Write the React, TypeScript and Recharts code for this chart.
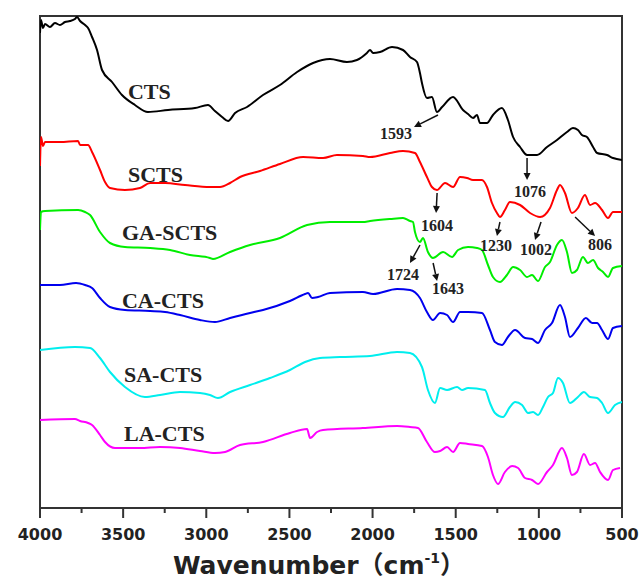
import { LineChart, Line, XAxis, YAxis, ReferenceArea, ReferenceDot } from "recharts";

// FTIR spectra, wavenumber (cm-1) vs. offset transmittance (a.u.)
const ctsWn = [4000, 3994, 3982, 3970, 3940, 3910, 3880, 3850, 3820, 3790, 3777, 3759, 3729, 3711, 3687, 3657, 3627, 3567, 3507, 3429, 3351, 3230, 3068, 2990, 2948, 2905, 2869, 2827, 2755, 2659, 2557, 2454, 2358, 2256, 2154, 2094, 2034, 2015, 1997, 1955, 1883, 1817, 1775, 1733, 1715, 1703, 1673, 1643, 1613, 1582, 1516, 1456, 1426, 1396, 1372, 1354, 1312, 1276, 1222, 1186, 1155, 1113, 1071, 1011, 951, 891, 831, 795, 765, 741, 711, 674, 650, 590, 554, 500];
const ctsT = [475, 488, 480, 484, 481, 485, 483, 486, 487, 489, 491, 487, 483, 480, 471, 458, 438, 426, 413, 403, 396, 398, 400, 403, 397, 391, 387, 395, 401, 413, 423, 436, 445, 449, 446, 448, 455, 458, 455, 456, 461, 458, 451, 446, 435, 425, 410, 411, 396, 401, 411, 398, 394, 390, 393, 385, 385, 393, 400, 388, 371, 361, 353, 353, 361, 368, 376, 380, 378, 373, 371, 361, 355, 353, 350, 348];

const sctsWn = [4000, 3994, 3982, 3970, 3880, 3771, 3759, 3711, 3687, 3639, 3609, 3579, 3489, 3399, 3338, 3248, 3128, 2978, 2917, 2857, 2797, 2677, 2557, 2418, 2298, 2214, 2058, 2015, 1895, 1817, 1745, 1715, 1673, 1643, 1613, 1564, 1516, 1474, 1432, 1396, 1342, 1312, 1282, 1252, 1234, 1204, 1174, 1113, 1053, 993, 933, 891, 873, 843, 801, 765, 723, 692, 662, 620, 584, 554, 500];
const sctsT = [342, 371, 362, 366, 366, 367, 363, 363, 356, 338, 326, 320, 318, 320, 325, 325, 323, 321, 321, 325, 331, 337, 344, 351, 350, 353, 352, 351, 355, 357, 355, 346, 331, 321, 318, 325, 321, 331, 330, 328, 328, 321, 305, 295, 291, 298, 306, 303, 295, 291, 300, 318, 323, 315, 295, 300, 313, 303, 305, 298, 290, 296, 296];

const gaWn = [4000, 3994, 3970, 3771, 3729, 3699, 3639, 3579, 3489, 3338, 3218, 3098, 2978, 2960, 2857, 2737, 2557, 2394, 2256, 2058, 2015, 1895, 1817, 1775, 1757, 1745, 1715, 1697, 1667, 1637, 1576, 1522, 1486, 1426, 1372, 1342, 1306, 1276, 1234, 1192, 1155, 1113, 1071, 1041, 1005, 963, 933, 891, 861, 831, 801, 771, 735, 705, 674, 644, 614, 584, 554, 500];
const gaT = [278, 296, 297, 298, 296, 293, 276, 265, 261, 260, 258, 253, 250, 249, 256, 263, 270, 283, 286, 286, 287, 289, 290, 287, 286, 276, 266, 270, 256, 250, 256, 251, 258, 261, 260, 258, 243, 231, 226, 233, 241, 238, 231, 233, 227, 241, 246, 263, 268, 256, 235, 238, 251, 245, 248, 240, 236, 231, 240, 242];

const caWn = [4000, 3880, 3783, 3729, 3687, 3639, 3579, 3489, 3338, 3248, 3158, 3038, 2948, 2857, 2737, 2659, 2497, 2406, 2388, 2364, 2328, 2256, 2058, 1997, 1853, 1775, 1715, 1673, 1637, 1594, 1552, 1516, 1474, 1426, 1342, 1294, 1264, 1222, 1186, 1143, 1083, 1041, 1005, 963, 921, 873, 843, 813, 765, 717, 680, 650, 620, 584, 554, 500];
const caT = [223, 223, 225, 223, 220, 210, 201, 198, 197, 196, 193, 188, 186, 190, 195, 198, 207, 214, 215, 210, 211, 215, 216, 214, 219, 218, 210, 196, 188, 195, 193, 186, 196, 196, 195, 178, 166, 163, 171, 178, 170, 169, 165, 178, 185, 203, 191, 171, 180, 190, 185, 185, 178, 169, 180, 182];

const saWn = [4000, 3790, 3699, 3639, 3579, 3489, 3369, 3278, 3158, 3038, 2978, 2930, 2857, 2737, 2617, 2497, 2406, 2316, 2196, 2015, 1853, 1775, 1703, 1667, 1625, 1594, 1552, 1492, 1462, 1426, 1324, 1294, 1264, 1216, 1174, 1143, 1101, 1065, 1035, 1005, 975, 945, 915, 885, 855, 813, 765, 729, 692, 650, 620, 584, 542, 500];
const saT = [158, 161, 160, 150, 136, 121, 111, 113, 116, 115, 113, 110, 116, 123, 130, 138, 146, 150, 151, 152, 156, 155, 141, 118, 105, 120, 118, 121, 118, 120, 118, 105, 95, 91, 101, 106, 103, 95, 96, 93, 101, 111, 115, 130, 125, 105, 111, 116, 111, 110, 105, 95, 103, 106];

const laWn = [4000, 3790, 3759, 3711, 3687, 3639, 3609, 3549, 3399, 3278, 3158, 3038, 2948, 2887, 2797, 2659, 2497, 2394, 2376, 2334, 2298, 2058, 1853, 1775, 1727, 1673, 1625, 1594, 1552, 1516, 1474, 1426, 1342, 1306, 1276, 1246, 1204, 1161, 1125, 1083, 1041, 1005, 951, 915, 861, 831, 801, 771, 729, 692, 662, 632, 584, 554, 512];
const laT = [88, 89, 87, 85, 83, 73, 66, 60, 60, 61, 60, 57, 55, 56, 63, 66, 75, 79, 70, 76, 78, 80, 82, 81, 80, 66, 56, 57, 61, 56, 65, 64, 62, 51, 33, 24, 36, 42, 40, 30, 28, 24, 36, 43, 60, 50, 33, 36, 54, 43, 45, 36, 28, 38, 40];

const xTicks = [4000, 3750, 3500, 3250, 3000, 2750, 2500, 2250, 2000, 1750, 1500, 1250, 1000, 750, 500];

// sample names: [name, wn, t]
const sampleLabels: [string, number, number][] = [
  ["CTS", 3471, 409],
  ["SCTS", 3471, 326],
  ["GA-SCTS", 3507, 268],
  ["CA-CTS", 3507, 200],
  ["SA-CTS", 3495, 126],
  ["LA-CTS", 3495, 67],
];

// peak callouts: [text, textWn, textT, arrowTipWn, arrowTipT, tail dx, tail dy]
const peaks: [string, number, number, number, number, number, number][] = [
  ["1593", 1859, 369, 1751, 381, 24, -12],
  ["1076", 1053, 311, 1071, 328, 0, -22],
  ["1604", 1612, 277, 1618, 295, 1, -20],
  ["1230", 1258, 257, 1252, 272, 3, -14],
  ["1002", 1017, 253, 1023, 268, 6, -18],
  ["806", 632, 258, 662, 272, -20, -19],
  ["1724", 1817, 228, 1775, 245, 10, -18],
  ["1643", 1546, 214, 1612, 227, -4, -18],
];

const series = [
  { name: "CTS", wn: ctsWn, t: ctsT, color: "#000000" },
  { name: "SCTS", wn: sctsWn, t: sctsT, color: "#ff0000" },
  { name: "GA-SCTS", wn: gaWn, t: gaT, color: "#00ee00" },
  { name: "CA-CTS", wn: caWn, t: caT, color: "#0000ee" },
  { name: "SA-CTS", wn: saWn, t: saT, color: "#00eeee" },
  { name: "LA-CTS", wn: laWn, t: laT, color: "#ff00ff" },
];

const serif = "'Liberation Serif', 'Times New Roman', serif";
const sans = "'DejaVu Sans', Arial, sans-serif";

function XTick(props: any) {
  const { x, y, payload } = props;
  const major = payload.value % 500 === 0;
  return (
    <g>
      <line x1={x} y1={y} x2={x} y2={y + (major ? 10 : 5)} stroke="#333" strokeWidth={2} />
      {major && (
        <text x={x} y={y + 32} textAnchor="middle" fontFamily={sans} fontWeight="bold" fontSize={16} fill="#222">
          {payload.value}
        </text>
      )}
    </g>
  );
}

function AxisTitle(props: any) {
  const { viewBox } = props;
  const cx = viewBox.x + viewBox.width / 2 - 12;
  return (
    <text x={cx} y={viewBox.y + 66} textAnchor="middle" fontFamily={sans} fontWeight="bold" fontSize={25} fill="#222">
      Wavenumber
      <tspan fontFamily="'Noto Sans CJK SC', sans-serif">（</tspan>
      cm
      <tspan fontSize={14} dy={-11}>-1</tspan>
      <tspan dy={11} fontFamily="'Noto Sans CJK SC', sans-serif">）</tspan>
    </text>
  );
}

export default function App() {
  return (
    <div style={{ position: "absolute", left: 0, top: 0, background: "#fff" }}>
      <LineChart width={641} height={583} margin={{ top: 16, right: 19, left: 40, bottom: 0 }}>
        <XAxis
          type="number"
          dataKey="wn"
          domain={[500, 4000]}
          reversed
          allowDataOverflow
          ticks={xTicks}
          interval={0}
          height={75}
          tickSize={0}
          tickMargin={0}
          tick={<XTick />}
          stroke="#333"
          strokeWidth={2}
          label={<AxisTitle />}
        />
        <YAxis type="number" domain={[0, 492]} hide allowDataOverflow />
        <ReferenceArea x1={4000} x2={500} y1={0} y2={492} fill="none" stroke="#333" strokeWidth={2} />
        {series.map((s) => (
          <Line
            key={s.name}
            data={s.wn.map((w, i) => ({ wn: w, t: s.t[i] }))}
            dataKey="t"
            type="monotone"
            stroke={s.color}
            strokeWidth={2}
            dot={false}
            isAnimationActive={false}
          />
        ))}
        {sampleLabels.map(([name, w, t]) => (
          <ReferenceDot
            key={name}
            x={w}
            y={t}
            r={0}
            shape={(p: any) => (
              <text x={p.cx} y={p.cy} fontFamily={serif} fontWeight="bold" fontSize={22} fill="#222">
                {name}
              </text>
            )}
          />
        ))}
        {peaks.map(([txt, tw, tt, aw, at, dx, dy]) => (
          <ReferenceDot
            key={"a" + txt}
            x={aw}
            y={at}
            r={0}
            shape={(p: any) => {
              const len = Math.hypot(dx, dy);
              const ux = -dx / len;
              const uy = -dy / len;
              const hx = p.cx - ux * 7;
              const hy = p.cy - uy * 7;
              return (
                <g>
                  <line x1={p.cx + dx} y1={p.cy + dy} x2={hx} y2={hy} stroke="#111" strokeWidth={1.5} />
                  <polygon
                    points={`${p.cx},${p.cy} ${hx - uy * 3.5},${hy + ux * 3.5} ${hx + uy * 3.5},${hy - ux * 3.5}`}
                    fill="#111"
                  />
                </g>
              );
            }}
          />
        ))}
        {peaks.map(([txt, tw, tt]) => (
          <ReferenceDot
            key={"t" + txt}
            x={tw}
            y={tt}
            r={0}
            shape={(p: any) => (
              <text x={p.cx} y={p.cy} textAnchor="middle" fontFamily={serif} fontWeight="bold" fontSize={16} fill="#222">
                {txt}
              </text>
            )}
          />
        ))}
      </LineChart>
    </div>
  );
}
